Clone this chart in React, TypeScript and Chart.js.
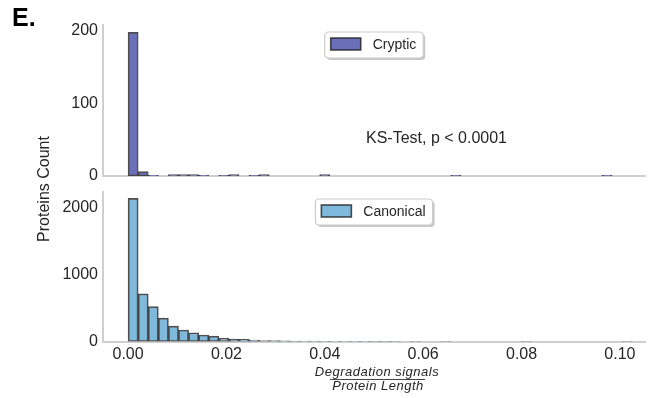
import React, { useEffect, useRef } from 'react';
import { Chart, registerables } from 'chart.js';

Chart.register(...registerables);

// ---- data ----
const binWidth = 0.00205;
const crypticCounts = [
  198, 6, 1, 0, 2, 2, 2, 1, 0, 1,
  2, 0, 1, 2, 0, 0, 0, 0, 0, 2,
  0, 0, 0, 0, 0, 0, 0, 0, 0, 0,
  0, 0, 1, 0, 0, 0, 0, 0, 0, 0,
  0, 0, 0, 0, 0, 0, 0, 1, 0, 0,
];
const canonicalCounts = [
  2135, 712, 522, 349, 231, 172, 131, 97, 82, 48,
  37, 33, 22, 15, 12, 9, 8, 6, 5, 4,
  4, 3, 2, 2, 1, 1, 1, 0, 1, 0,
  0, 1, 0, 0, 0, 0, 0, 0, 0, 1,
  0, 0, 0, 0, 0, 0, 0, 0, 0, 1,
];
const xTicks = [0, 0.02, 0.04, 0.06, 0.08, 0.1];
const crypticYTicks = [0, 100, 200];
const canonicalYTicks = [0, 1000, 2000];
const crypticLabel = 'Cryptic';
const canonicalLabel = 'Canonical';
const panelLabel = 'E.';
const yTitle = 'Proteins Count';
const xTitleTop = 'Degradation signals';
const xTitleBottom = 'Protein Length';
const statText = 'KS-Test, p < 0.0001';

const FONT = '"Liberation Sans", Arial, Helvetica, sans-serif';
const TEXT = '#262626';
const SPINE = '#cfcfcf';
const EDGE = 'rgba(30,30,30,0.78)';

const toPoints = (counts: number[]) =>
  counts.map((c, i) => ({ x: (i + 0.5) * binWidth, y: c }));

function roundRect(ctx: CanvasRenderingContext2D, x: number, y: number, w: number, h: number, r: number) {
  ctx.beginPath();
  ctx.moveTo(x + r, y);
  ctx.lineTo(x + w - r, y);
  ctx.quadraticCurveTo(x + w, y, x + w, y + r);
  ctx.lineTo(x + w, y + h - r);
  ctx.quadraticCurveTo(x + w, y + h, x + w - r, y + h);
  ctx.lineTo(x + r, y + h);
  ctx.quadraticCurveTo(x, y + h, x, y + h - r);
  ctx.lineTo(x, y + r);
  ctx.quadraticCurveTo(x, y, x + r, y);
  ctx.closePath();
}

function drawLegend(chart: any, label: string, color: string) {
  const { ctx, chartArea } = chart;
  ctx.save();
  ctx.font = `14px ${FONT}`;
  const tw = ctx.measureText(label).width;
  const boxW = 48 + tw + 7;
  const boxH = 26;
  const cx = (chartArea.left + chartArea.right) / 2;
  const x = cx - boxW / 2;
  const y = chartArea.top + 7;
  ctx.fillStyle = 'rgba(0,0,0,0.22)';
  roundRect(ctx, x + 2, y + 2, boxW, boxH, 4);
  ctx.fill();
  ctx.fillStyle = '#ffffff';
  roundRect(ctx, x, y, boxW, boxH, 4);
  ctx.fill();
  ctx.strokeStyle = '#cccccc';
  ctx.lineWidth = 1.2;
  ctx.stroke();
  ctx.fillStyle = color;
  ctx.fillRect(x + 6, y + 6, 30, 12);
  ctx.strokeStyle = EDGE;
  ctx.lineWidth = 1.6;
  ctx.strokeRect(x + 6, y + 6, 30, 12);
  ctx.fillStyle = TEXT;
  ctx.textBaseline = 'middle';
  ctx.textAlign = 'left';
  ctx.fillText(label, x + 48, y + boxH / 2 + 0.5);
  ctx.restore();
}

function makeConfig(kind: 'top' | 'bottom'): any {
  const isTop = kind === 'top';
  const counts = isTop ? crypticCounts : canonicalCounts;
  const label = isTop ? crypticLabel : canonicalLabel;
  const color = isTop ? '#6b6fba' : '#7fbadc';
  const yTicks = isTop ? crypticYTicks : canonicalYTicks;
  const yMax = isTop ? 208 : 2231;

  const decor = {
    id: 'decor' + kind,
    afterDraw(chart: any) {
      const { ctx, chartArea } = chart;
      drawLegend(chart, label, color);
      ctx.save();
      ctx.fillStyle = TEXT;
      if (isTop) {
        ctx.font = `bold 25px ${FONT}`;
        ctx.textAlign = 'left';
        ctx.textBaseline = 'alphabetic';
        ctx.fillStyle = '#000';
        ctx.fillText(panelLabel, 12, 26);
        ctx.fillStyle = TEXT;
        ctx.font = `16px ${FONT}`;
        ctx.textAlign = 'center';
        ctx.textBaseline = 'middle';
        ctx.save();
        ctx.translate(45, 189);
        ctx.rotate(-Math.PI / 2);
        ctx.fillText(yTitle, 0, 0);
        ctx.restore();
        ctx.font = `16px ${FONT}`;
        ctx.textAlign = 'left';
        ctx.fillText(statText, 366, 139);
      } else {
        const cx = (chartArea.left + chartArea.right) / 2 + 3;
        ctx.font = `italic 13px ${FONT}`;
        ctx.textAlign = 'center';
        ctx.textBaseline = 'middle';
        (ctx as any).letterSpacing = '0.5px';
        ctx.fillText(xTitleTop, cx, 372);
        ctx.fillText(xTitleBottom, cx + 1, 386);
        ctx.strokeStyle = '#444';
        ctx.lineWidth = 1;
        ctx.beginPath();
        ctx.moveTo(cx - 47, 379.5);
        ctx.lineTo(cx + 48, 379.5);
        ctx.stroke();
      }
      ctx.restore();
    },
  };

  return {
    type: 'bar',
    data: {
      datasets: [
        {
          label,
          data: toPoints(counts),
          backgroundColor: color,
          borderColor: EDGE,
          borderWidth: 1.7,
          borderSkipped: false,
          barPercentage: 1,
          categoryPercentage: 1,
        },
      ],
    },
    options: {
      animation: false,
      responsive: false,
      devicePixelRatio: 1,
      layout: {
        padding: isTop
          ? { top: 25, right: 5, bottom: 222, left: 0 }
          : { top: 192, right: 5, bottom: 26.5, left: 0 },
      },
      plugins: {
        legend: { display: false },
        tooltip: { enabled: false },
      },
      scales: {
        x: {
          type: 'linear',
          offset: false,
          min: -0.0051,
          max: 0.1051,
          grid: { display: false, drawTicks: false, offset: false },
          border: { display: true, color: SPINE, width: 2 },
          afterBuildTicks: (scale: any) => {
            scale.ticks = xTicks.map((v) => ({ value: v }));
          },
          afterFit: (scale: any) => {
            scale.height = isTop ? 0 : 30;
            scale.paddingLeft = 0;
            scale.paddingRight = 0;
          },
          ticks: {
            display: !isTop,
            padding: 3,
            color: TEXT,
            font: { family: FONT, size: 16 },
            maxRotation: 0,
            autoSkip: false,
            callback: (v: number) => v.toFixed(2),
          },
        },
        y: {
          min: 0,
          max: yMax,
          grid: { display: false, drawTicks: false },
          border: { display: true, color: SPINE, width: 2 },
          afterBuildTicks: (scale: any) => {
            scale.ticks = yTicks.map((v) => ({ value: v }));
          },
          afterFit: (scale: any) => {
            scale.width = 103;
          },
          ticks: {
            padding: 5,
            color: TEXT,
            font: { family: FONT, size: 16 },
            callback: (v: number) => String(v),
          },
        },
      },
    },
    plugins: [decor],
  };
}

export default function App() {
  const topRef = useRef<HTMLCanvasElement>(null);
  const bottomRef = useRef<HTMLCanvasElement>(null);

  useEffect(() => {
    const top = new Chart(topRef.current as HTMLCanvasElement, makeConfig('top'));
    const bottom = new Chart(bottomRef.current as HTMLCanvasElement, makeConfig('bottom'));
    return () => {
      top.destroy();
      bottom.destroy();
    };
  }, []);

  const canvasStyle: React.CSSProperties = {
    position: 'absolute',
    left: 0,
    top: 0,
    width: 650,
    height: 398,
  };

  return (
    <div
      style={{
        position: 'fixed',
        left: 0,
        top: 0,
        width: 650,
        height: 398,
        background: '#ffffff',
        overflow: 'hidden',
      }}
    >
      <canvas ref={topRef} width={650} height={398} style={canvasStyle} />
      <canvas ref={bottomRef} width={650} height={398} style={canvasStyle} />
    </div>
  );
}
